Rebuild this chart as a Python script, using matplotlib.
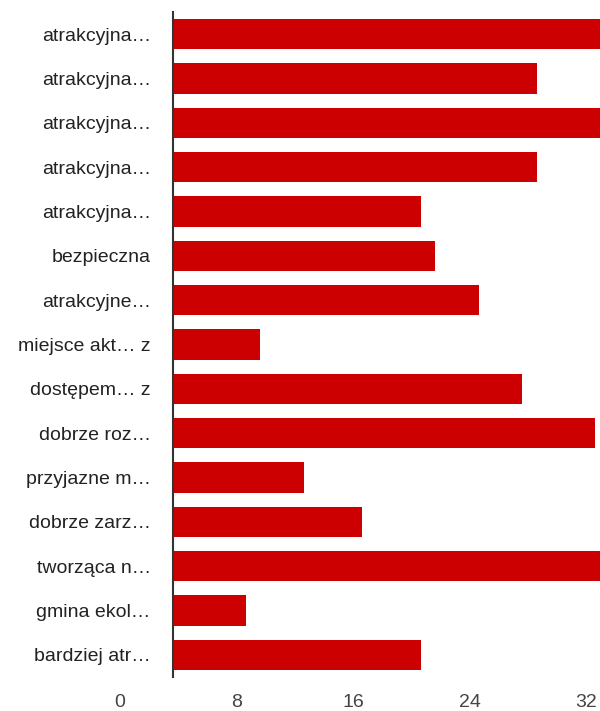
import matplotlib.pyplot as plt
from matplotlib.transforms import ScaledTranslation

plt.rcParams['font.family'] = ['Liberation Sans', 'DejaVu Sans']

etykiety = ["atrakcyjna…", "atrakcyjna…", "atrakcyjna…", "atrakcyjna…", "atrakcyjna…",
            "bezpieczna", "atrakcyjne…", "miejsce akt… z", "dostępem… z", "dobrze roz…",
            "przyjazne m…", "dobrze zarz…", "tworząca n…", "gmina ekol…", "bardziej atr…"]
wartosci = [31, 25, 32, 25, 17, 18, 21, 6, 24, 29, 9, 13, 30, 5, 17]
ticki = [0, 8, 16, 24, 32]

fig = plt.figure(figsize=(6, 7.11), dpi=100)
# os siega poza prawa krawedz, slupki ucina brzeg obrazka
ax = fig.add_axes([173 / 600, 34 / 711, 480.5 / 600, 665 / 711])

ax.barh(range(len(wartosci)), wartosci, height=0.677, color="#cc0000", zorder=2)
ax.set_ylim(len(wartosci) - 0.5, -0.5)
ax.set_xlim(0, 33)

ax.set_yticks(range(len(etykiety)))
ax.set_yticklabels(etykiety, fontsize=14, color="#222222")
ax.tick_params(axis="y", length=0, pad=16)

ax.set_xticks(ticki)
ax.set_xticklabels([str(t) for t in ticki], fontsize=14, color="#444444")
ax.tick_params(axis="x", length=0, pad=12)
# etykiety osi X przesuniete w lewo jak w oryginale
przesun = ScaledTranslation(-53 / 100, 0, fig.dpi_scale_trans)
for lab in ax.get_xticklabels():
    lab.set_transform(lab.get_transform() + przesun)

for s in ["top", "right", "bottom"]:
    ax.spines[s].set_visible(False)
ax.spines["left"].set_color("#333333")
ax.spines["left"].set_linewidth(1.5)
ax.spines["left"].set_zorder(3)

fig.savefig("out.png", dpi=100)
